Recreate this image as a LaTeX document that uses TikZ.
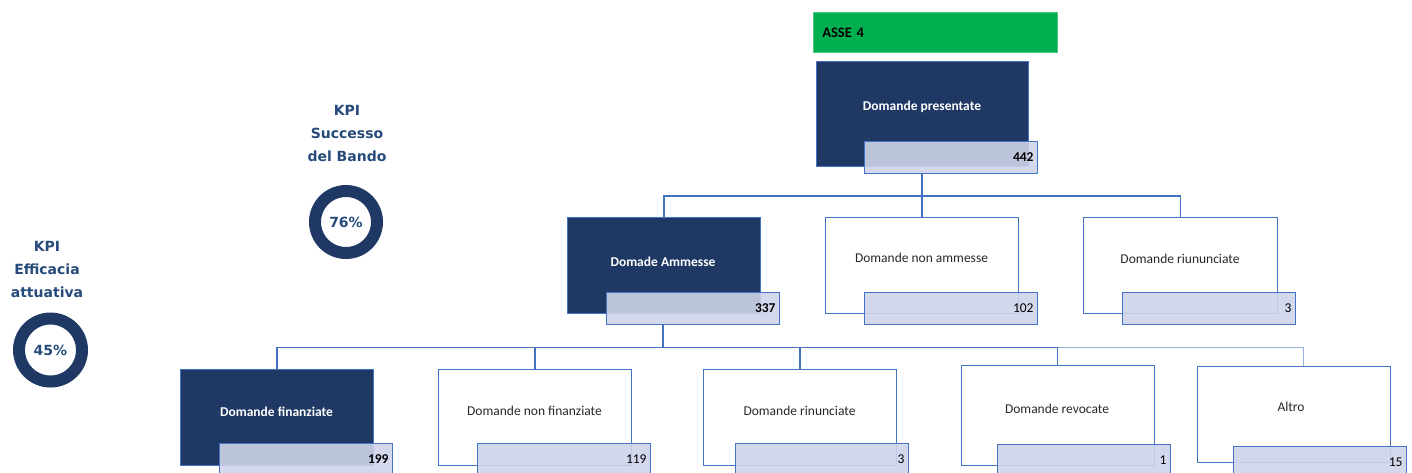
\documentclass[tikz,border=0pt]{standalone}
\usepackage{fontspec}
\setmainfont{Carlito}
\newfontfamily\kpifont{DejaVu Sans}
\definecolor{navy}{RGB}{31,56,100}
\definecolor{bblue}{RGB}{68,114,196}
\definecolor{lav}{RGB}{206,212,234}
\definecolor{agreen}{RGB}{0,176,80}
\definecolor{kpiblue}{RGB}{38,74,122}
\definecolor{txt}{RGB}{40,40,40}
\begin{document}
\begin{tikzpicture}[x=1pt,y=-1pt,
  box/.style={draw=bblue,line width=1.1pt,anchor=north west,inner sep=0pt},
  darkbox/.style={box,fill=navy},
  whitebox/.style={box,fill=white},
  numbox/.style={draw=bblue,line width=1.1pt,fill=lav,fill opacity=0.9,text opacity=1,
    anchor=north west,minimum height=32pt,inner xsep=4pt,inner ysep=0pt,
    text width=165pt,align=right,text=black,font=\fontsize{13.5}{16}\selectfont},
  boldnum/.style={numbox,font=\fontsize{13.5}{16}\selectfont\bfseries},
  dlabel/.style={text=white,font=\fontsize{13.5}{16}\selectfont\bfseries},
  wlabel/.style={text=txt,font=\fontsize{13.5}{16}\selectfont},
  conn/.style={draw=bblue,line width=1.2pt},
  kpitext/.style={text=kpiblue,align=center,font=\kpifont\bfseries\fontsize{14}{23}\selectfont},
  ring/.style={circle,draw=navy,line width=12pt,minimum size=62pt,inner sep=0pt,
    text=kpiblue,font=\kpifont\bfseries\fontsize{14}{16}\selectfont}]
\useasboundingbox (0,0) rectangle (1412,472);
\clip (0,0) rectangle (1412,472);

% header
\node[anchor=north west,fill=agreen,draw=agreen!70!white,line width=0.6pt,minimum width=244pt,minimum height=40pt,
  inner xsep=9pt,text width=226pt,align=left,font=\fontsize{14.5}{16}\selectfont\bfseries] (asse) at (813,12) {ASSE 4};

% level 1
\node[darkbox,minimum width=212pt,minimum height=105pt] (pres) at (816,61) {};
\node[dlabel] (presl) at (922,107) {Domande presentate};
\node[boldnum] (n442) at (864,141) {442};

% level 2
\node[darkbox,minimum width=193pt,minimum height=96pt] (amm) at (567,217) {};
\node[dlabel] (amml) at (663,262) {Domade Ammesse};
\node[boldnum] (n337) at (606,292) {337};

\node[whitebox,minimum width=193pt,minimum height=96pt] (namm) at (825,217) {};
\node[wlabel] (nammn) at (921.5,258) {Domande non ammesse};
\node[numbox] (n102) at (864,292) {102};

\node[whitebox,minimum width=194pt,minimum height=96pt] (riu) at (1083,217) {};
\node[wlabel] (riul) at (1180,259) {Domande riununciate};
\node[numbox] (n3a) at (1122,292) {3};

% level 3
\node[darkbox,minimum width=193pt,minimum height=96pt] (fin) at (180,369) {};
\node[dlabel] (finl) at (276.5,412) {Domande finanziate};
\node[boldnum] (n199) at (219,443) {199};

\node[whitebox,minimum width=193pt,minimum height=96pt] (nfin) at (438,369) {};
\node[wlabel] (nfinl) at (534.5,410.5) {Domande non finanziate};
\node[numbox] (n119) at (477,443) {119};

\node[whitebox,minimum width=193pt,minimum height=96pt] (rin) at (703,369) {};
\node[wlabel] (rinl) at (799.5,410.5) {Domande rinunciate};
\node[numbox] (n3b) at (735,443) {3};

\node[whitebox,minimum width=193pt,minimum height=100pt] (rev) at (960.5,364.5) {};
\node[wlabel] (revl) at (1057,408.5) {Domande revocate};
\node[numbox] (n1) at (997,444) {1};

\node[whitebox,minimum width=193pt,minimum height=96pt] (alt) at (1197,366) {};
\node[wlabel] (altl) at (1291,407) {Altro};
\node[numbox] (n15) at (1233,446) {15};

% connectors level 1
\coordinate (j1) at (922,196);
\draw[conn] (j1) -- (j1 |- n442.south);
\draw[conn] (amm.north) |- (j1);
\draw[conn] (namm.north) -- (namm.north |- j1);
\draw[conn] (riu.north) |- (j1);

% connectors level 2
\coordinate (j2) at (663,347.5);
\draw[conn] (j2) -- (j2 |- n337.south);
\draw[conn] (fin.north) |- (j2);
\draw[conn] (nfin.north) |- (j2);
\draw[conn] (rin.north) |- (j2);
\draw[conn] (rev.north) |- (j2);
\draw[conn,draw opacity=0.55,line width=1pt] ([xshift=9.5pt]alt.north) |- (rev.north |- j2);

% KPIs
\node[kpitext] (kpi1) at (347,133) {KPI\\Successo\\del Bando};
\node[ring] (r1) at (346,222) {76\%};
\node[kpitext] (kpi2) at (47,269) {KPI\\Efficacia\\attuativa};
\node[ring,minimum size=63pt] (r2) at (50.5,350) {45\%};
\end{tikzpicture}
\end{document}
